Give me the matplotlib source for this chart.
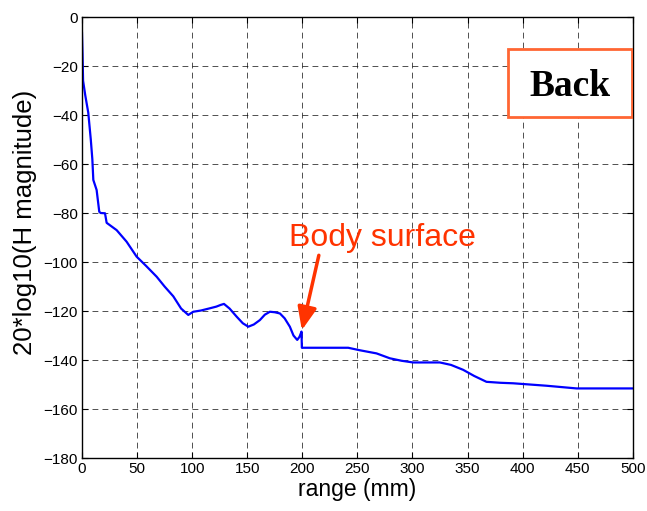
import numpy as np
import matplotlib.pyplot as plt
from matplotlib.patches import Rectangle

# H magnitude (dB) against range along the path
range_mm = [0, 0.5, 1, 3, 5.7, 8, 9.4, 10.3, 13.3, 15.7, 17, 20.9, 22.4, 31.5, 40.5, 49.6,
            58, 67.8, 75, 82.9, 90, 96.5, 101, 108, 116, 122, 126, 128.9, 134, 140.4,
            146, 151, 156, 161.5, 166, 170.6, 175, 179.7, 184, 188.7, 192, 195.4, 197.5,
            199.3, 199.6, 210, 225, 241.7, 252, 267.4, 279.5, 290, 300.6, 324.9, 335,
            346, 356, 367.2, 380, 391.4, 421.7, 449, 470, 500]
mag_db = [-6.5, -15, -26, -32, -39, -50, -58, -66.5, -70.6, -79.5, -80, -80.1, -84, -87,
          -91.7, -97.8, -101.5, -106, -110, -114, -119, -121.6, -120.3, -119.8, -118.9,
          -118.2, -117.5, -117.1, -119, -122.3, -125, -126.4, -125.5, -123.7, -121.5,
          -120.3, -120.5, -121, -123, -126.4, -130, -131.8, -130.5, -128.4, -135, -135,
          -135, -135, -136, -137.3, -139.3, -140.3, -141, -141, -142, -144, -146.5,
          -148.9, -149.3, -149.5, -150.5, -151.6, -151.6, -151.6]

x_ticks = np.arange(0, 501, 50)
y_ticks = np.arange(-180, 1, 20)

fig = plt.figure(figsize=(6.47, 5.11), dpi=100)
ax = fig.add_axes([0.1267, 0.1037, 0.8513, 0.863])

ax.plot(range_mm, mag_db, color='#0000ff', lw=1.6)

ax.set_xlim(0, 500)
ax.set_ylim(-180, 0)
ax.set_xticks(x_ticks)
ax.set_yticks(y_ticks)
ax.tick_params(direction='in', top=True, right=True, labelsize=11, length=4, pad=3)
for lab in ax.get_xticklabels() + ax.get_yticklabels():
    lab.set_family('Liberation Sans')
ax.grid(True, color='black', linestyle=(0, (7, 5)), lw=0.6, alpha=0.8)
for sp in ax.spines.values():
    sp.set_linewidth(1.0)

ax.set_xlabel('range (mm)', fontsize=16.5, family='Liberation Sans', labelpad=1)
ax.set_ylabel('20*log10(H magnitude)', fontsize=18.5, family='Liberation Sans')
ax.yaxis.set_label_coords(-0.082, 0.535)

ax.annotate('Body surface', xy=(199.6, -127.8), xytext=(188, -90),
            fontsize=23, color='#ff3300', family='Liberation Sans', va='center',
            arrowprops=dict(arrowstyle='-|>,head_length=0.6,head_width=0.25',
                            color='#ff3300', lw=2.5, shrinkA=0, shrinkB=0,
                            relpos=(0.17, 0.2)))

# label box in the upper right corner
ax.add_patch(Rectangle((386.6, -40.8), 112.5, 27.7, fc='white', ec='#ff6633',
                       lw=2, zorder=3))
ax.text(443, -28.3, 'Back', ha='center', va='center', fontsize=27,
        fontweight='bold', family='Liberation Serif', zorder=4)

fig.savefig('out.png', dpi=100)
